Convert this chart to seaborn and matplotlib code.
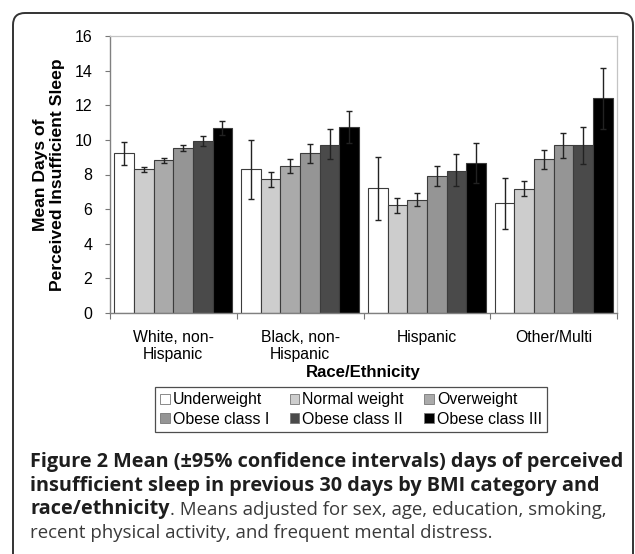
import numpy as np
import pandas as pd
import seaborn as sns
import matplotlib.pyplot as plt
from matplotlib.patches import FancyBboxPatch, Patch
from matplotlib.transforms import IdentityTransform

races = ["White, non-\nHispanic", "Black, non-\nHispanic", "Hispanic", "Other/Multi"]
bmiCats = ["Underweight", "Normal weight", "Overweight",
           "Obese class I", "Obese class II", "Obese class III"]

# adjusted means, one list per BMI category (order = races)
underweight = [9.23, 8.31, 7.21, 6.35]
normalWeight = [8.31, 7.73, 6.23, 7.19]
overweight = [8.83, 8.48, 6.54, 8.88]
obeseI = [9.52, 9.23, 7.90, 9.69]
obeseII = [9.92, 9.73, 8.21, 9.69]
obeseIII = [10.69, 10.77, 8.67, 12.40]

# 95% CI bounds
ciLow = {
    "Underweight": [8.52, 6.60, 5.40, 4.88],
    "Normal weight": [8.17, 7.27, 5.79, 6.73],
    "Overweight": [8.69, 8.08, 6.19, 8.31],
    "Obese class I": [9.37, 8.67, 7.31, 8.94],
    "Obese class II": [9.67, 8.88, 7.31, 8.63],
    "Obese class III": [10.29, 9.80, 7.50, 10.65],
}
ciHigh = {
    "Underweight": [9.90, 9.98, 9.02, 7.79],
    "Normal weight": [8.46, 8.17, 6.63, 7.63],
    "Overweight": [8.96, 8.88, 6.92, 9.44],
    "Obese class I": [9.73, 9.75, 8.50, 10.42],
    "Obese class II": [10.21, 10.60, 9.17, 10.73],
    "Obese class III": [11.08, 11.69, 9.83, 14.15],
}

colours = ["#ffffff", "#cdcdcd", "#aaaaaa", "#959595", "#4a4a4a", "#000000"]

meansByCat = dict(zip(bmiCats, [underweight, normalWeight, overweight, obeseI, obeseII, obeseIII]))
rows = []
for cat in bmiCats:
    for race, val in zip(races, meansByCat[cat]):
        rows.append({"Race": race, "BMI": cat, "Mean": val})
df = pd.DataFrame(rows)

plt.rcParams.update({
    "font.family": ["Liberation Sans", "DejaVu Sans"],
    "font.size": 11,
})

fig = plt.figure(figsize=(6.35, 5.54), dpi=100)
ax = fig.add_axes([110/635, 1-313/554, (617-110)/635, (313-36)/554])

sns.barplot(data=df, x="Race", y="Mean", hue="BMI", order=races, hue_order=bmiCats,
            palette=colours, errorbar=None, width=0.93, gap=0, ax=ax,
            edgecolor="#3c3c3c", linewidth=0.8, legend=False)

# error bars on top of the bars seaborn drew
for cat, bars in zip(bmiCats, ax.containers):
    xs = [b.get_x() + b.get_width()/2 for b in bars]
    hs = np.array([b.get_height() for b in bars])
    lo = hs - np.array(ciLow[cat])
    hi = np.array(ciHigh[cat]) - hs
    ax.errorbar(xs, hs, yerr=[lo, hi], fmt="none", ecolor="#222222",
                elinewidth=1.0, capsize=2.2, capthick=1.0, zorder=5)

ax.set_ylim(0, 16)
ax.set_xlim(-0.5, 3.5)
ax.set_yticks(np.arange(0, 17, 2))
ax.tick_params(axis="y", direction="out", length=3.6, width=0.8, color="#777777",
               labelsize=11.5, pad=9)
ax.set_xticks(np.arange(len(races)))
ax.set_xticklabels(races, fontsize=11.3, linespacing=1.2)
ax.tick_params(axis="x", which="major", length=0, pad=12)
ax.set_xticks(np.arange(-0.5, len(races)), minor=True)
ax.tick_params(axis="x", which="minor", direction="out", length=4, width=0.8, color="#777777")

for side in ["left", "bottom"]:
    ax.spines[side].set_color("#808080")
    ax.spines[side].set_linewidth(1.0)
for side in ["top", "right"]:
    ax.spines[side].set_color("#c4c4c4")
    ax.spines[side].set_linewidth(0.9)

ax.set_ylabel("Mean Days of\nPerceived Insufficient Sleep", fontsize=12.6,
              fontweight="bold", linespacing=1.2, labelpad=7)
ax.set_xlabel("Race/Ethnicity", fontsize=12.1, fontweight="bold", labelpad=2)

# legend fills column by column, so reorder to read row-wise like the original
legOrder = [0, 3, 1, 4, 2, 5]
handles = [Patch(facecolor=colours[i], edgecolor="#777777", linewidth=0.6) for i in legOrder]
labels = [bmiCats[i] for i in legOrder]
leg = fig.legend(handles, labels, ncol=3, loc="center", bbox_to_anchor=(351/635, 1-409.5/554),
                 frameon=True, fancybox=False, edgecolor="#222222", fontsize=11.4,
                 handlelength=0.6, handleheight=0.6, handletextpad=0.2,
                 columnspacing=1.3, labelspacing=0.3, borderpad=0.3, borderaxespad=0)
leg.get_frame().set_linewidth(0.9)

# rounded outer frame (open at the bottom, cut off by the image edge)
frame = FancyBboxPatch((13, -30), 620, 554 - 13 + 30,
                       boxstyle="round,pad=0,rounding_size=12",
                       transform=IdentityTransform(), facecolor="none",
                       edgecolor="#333333", linewidth=1.4)
fig.add_artist(frame)

capFont = ["Open Sans", "DejaVu Sans"]
boldSize = 14.3
regSize = 13.4
fig.text(30/635, 1-467/554, "Figure 2 Mean (\u00b195% confidence intervals) days of perceived",
         family=capFont, fontsize=boldSize, fontweight="bold", color="#1e1e1e", va="baseline")
fig.text(30/635, 1-490.5/554, "insufficient sleep in previous 30 days by BMI category and",
         family=capFont, fontsize=boldSize, fontweight="bold", color="#1e1e1e", va="baseline")
boldPart = fig.text(30/635, 1-514/554, "race/ethnicity",
                    family=capFont, fontsize=boldSize, fontweight="bold", color="#1e1e1e",
                    va="baseline")
ax.annotate(". Means adjusted for sex, age, education, smoking,", xy=(1, 0),
            xycoords=boldPart, va="bottom", ha="left", annotation_clip=False,
            family=capFont, fontsize=regSize, color="#3a3a3a")
fig.text(30/635, 1-537.5/554, "recent physical activity, and frequent mental distress.",
         family=capFont, fontsize=regSize, color="#3a3a3a", va="baseline")

fig.savefig("out.png", dpi=100)
